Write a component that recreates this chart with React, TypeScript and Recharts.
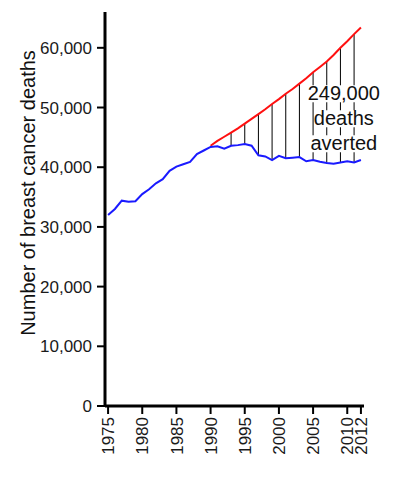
import { LineChart, Line, XAxis, YAxis, ReferenceLine, ReferenceDot } from "recharts";

const years = [
  1975, 1976, 1977, 1978, 1979, 1980, 1981, 1982, 1983, 1984, 1985, 1986, 1987,
  1988, 1989, 1990, 1991, 1992, 1993, 1994, 1995, 1996, 1997, 1998, 1999, 2000,
  2001, 2002, 2003, 2004, 2005, 2006, 2007, 2008, 2009, 2010, 2011, 2012,
];

// observed deaths
const observed = [
  32000, 33000, 34400, 34200, 34300, 35500, 36300, 37300, 38000, 39400, 40100,
  40500, 40900, 42200, 42800, 43400, 43500, 43100, 43600, 43700, 43900, 43600,
  42000, 41800, 41200, 41900, 41500, 41600, 41700, 41000, 41200, 40900, 40700,
  40600, 40800, 41000, 40800, 41200,
];

// expected deaths without the decline (from 1990)
const expected = [
  43600, 44400, 45100, 45800, 46500, 47300, 48100, 48900, 49700, 50600, 51400,
  52300, 53100, 54000, 54900, 55900, 56800, 57700, 58800, 60000, 61100, 62300,
  63400,
];
const expectedStart = 1990;

const gapYears = [1993, 1995, 1997, 1999, 2001, 2003, 2005, 2007, 2009, 2011];

const xTicks = [1975, 1980, 1985, 1990, 1995, 2000, 2005, 2010, 2012];
const yTicks = [0, 10000, 20000, 30000, 40000, 50000, 60000];

const annotation = ["249,000", "deaths", "averted"];

const FONT = "'Liberation Sans', Arial, sans-serif";

const data = years.map((year, i) => ({
  year,
  observed: observed[i],
  expected: year >= expectedStart ? expected[year - expectedStart] : null,
}));

const XTick = ({ x, y, payload }: any) => (
  <text
    transform={`translate(${x},${y + 1}) rotate(-90)`}
    textAnchor="end"
    dy="0.36em"
    fontSize={17}
    fontFamily={FONT}
    fill="#1a1a1a"
  >
    {payload.value}
  </text>
);

const YLabel = ({ viewBox }: any) => (
  <text
    transform={`translate(${viewBox.x + 28},${viewBox.y + 181}) rotate(-90)`}
    textAnchor="middle"
    dy="0.36em"
    fontSize={20}
    fontFamily={FONT}
    fill="#111"
  >
    Number of breast cancer deaths
  </text>
);

const AnnotationLabel = ({ viewBox }: any) => {
  const cx = viewBox.x + viewBox.width / 2;
  const cy = viewBox.y + viewBox.height / 2;
  const widths = [74, 58, 68];
  return (
    <g>
      {annotation.map((t, i) => (
        <g key={t}>
          <rect x={cx - widths[i] / 2} y={cy + (i - 1) * 25 - 8} width={widths[i]} height={17} fill="#fff" />
          <text x={cx} y={cy + (i - 1) * 25} dy="0.36em" textAnchor="middle" fontSize={20} fontFamily={FONT} fill="#111">
            {t}
          </text>
        </g>
      ))}
    </g>
  );
};

export default function App() {
  return (
    <div style={{ position: "absolute", left: 0, top: 0, background: "#fff" }}>
      <LineChart width={399} height={478} data={data} margin={{ top: 12, right: 35, bottom: 12, left: 0 }}>
        <XAxis
          dataKey="year"
          type="number"
          domain={[1974.55, 2012.45]}
          ticks={xTicks}
          interval={0}
          tick={<XTick />}
          tickSize={8}
          tickMargin={2}
          height={60}
          axisLine={{ stroke: "#000", strokeWidth: 3 }}
          tickLine={{ stroke: "#000", strokeWidth: 2 }}
        />
        <YAxis
          type="number"
          domain={[0, 66000]}
          ticks={yTicks}
          interval={0}
          width={105}
          tickSize={8}
          tickMargin={5}
          tickFormatter={(v: number) => v.toLocaleString("en-US")}
          tick={{ fontSize: 17, fontFamily: FONT, fill: "#1a1a1a" }}
          axisLine={{ stroke: "#000", strokeWidth: 3 }}
          tickLine={{ stroke: "#000", strokeWidth: 2 }}
          label={<YLabel />}
        />
        {gapYears.map((yr) => {
          const i = years.indexOf(yr);
          return (
            <ReferenceLine
              key={yr}
              segment={[
                { x: yr, y: observed[i] },
                { x: yr, y: expected[yr - expectedStart] },
              ]}
              stroke="#000"
              strokeWidth={1}
            />
          );
        })}
        <ReferenceDot x={2009.5} y={48200} r={0} fill="none" stroke="none" label={<AnnotationLabel />} />
        <Line
          type="linear"
          dataKey="expected"
          stroke="#ff1010"
          strokeWidth={2}
          dot={false}
          isAnimationActive={false}
        />
        <Line
          type="linear"
          dataKey="observed"
          stroke="#1a1aff"
          strokeWidth={2}
          dot={false}
          isAnimationActive={false}
        />
      </LineChart>
    </div>
  );
}
